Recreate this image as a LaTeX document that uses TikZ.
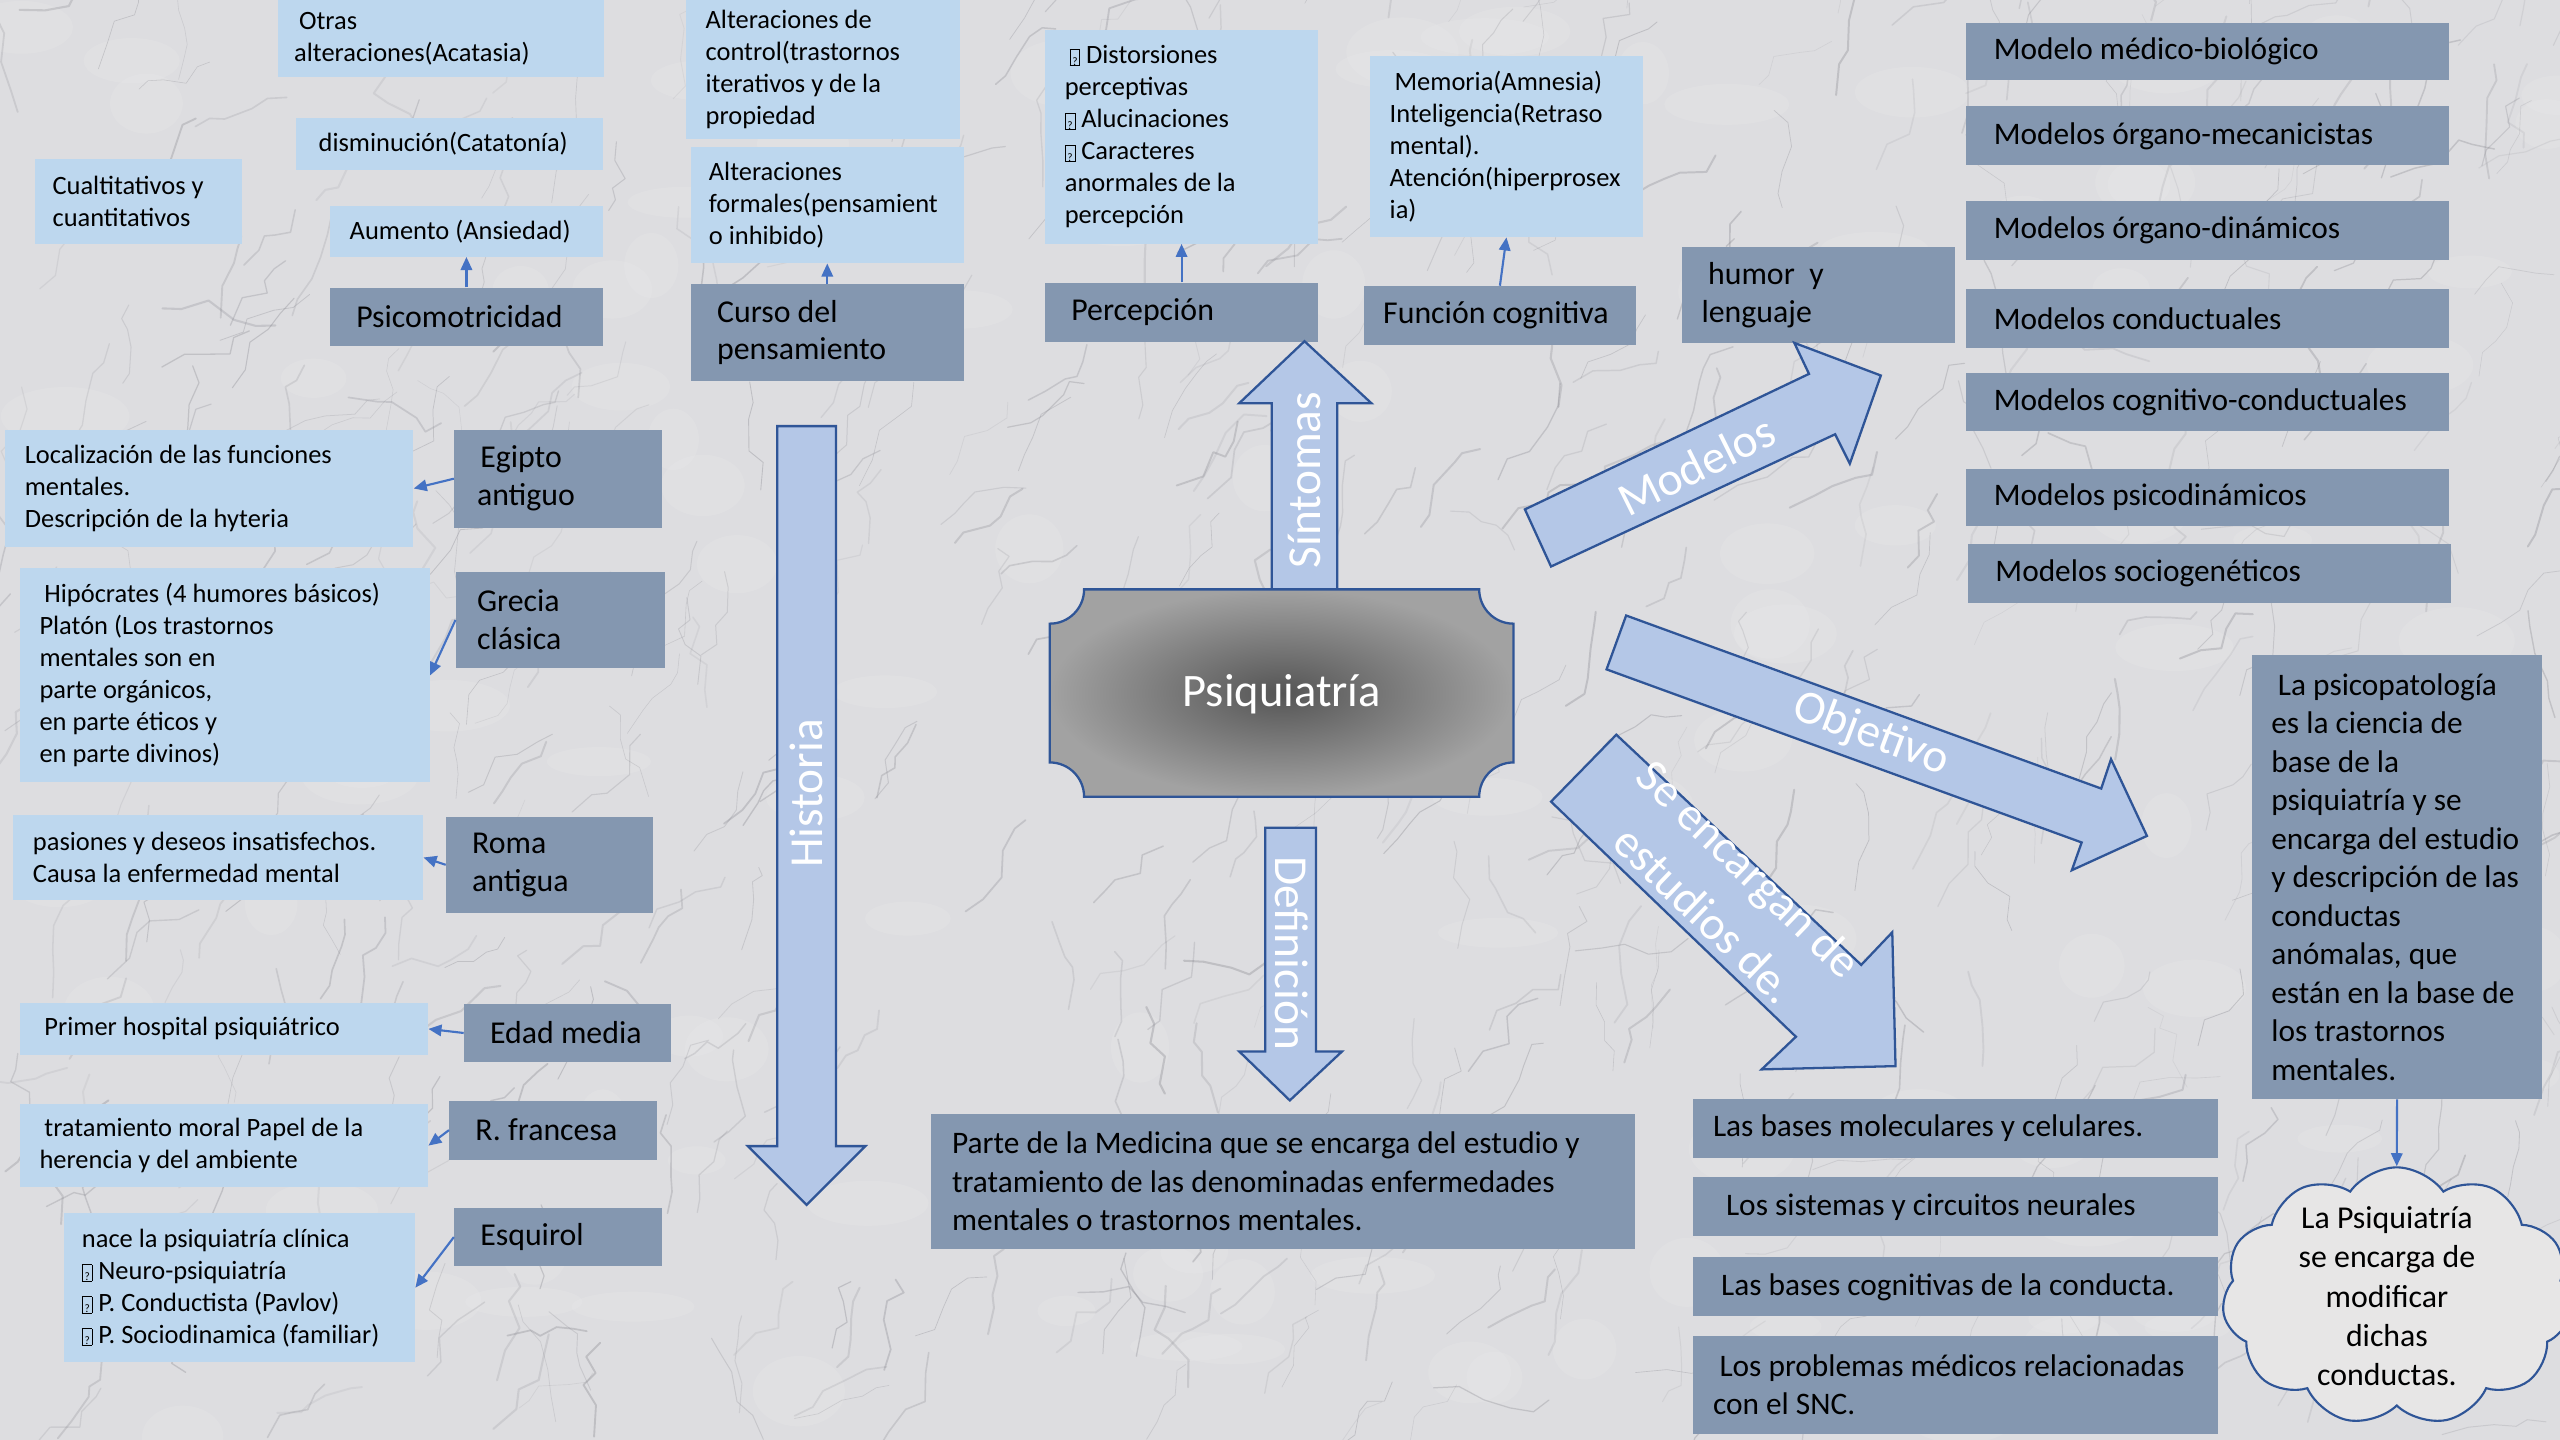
\documentclass[tikz,border=0pt]{standalone}
\usepackage{fontspec}
\setmainfont{Carlito}
\usetikzlibrary{shapes.symbols,arrows.meta}
\definecolor{lblue}{HTML}{BDD7EE}
\definecolor{dgray}{HTML}{8497B0}
\definecolor{abody}{HTML}{B4C7E7}
\definecolor{aline}{HTML}{2F5597}
\definecolor{cblue}{HTML}{4472C4}
\definecolor{bgc}{HTML}{DDDDE0}
\definecolor{vein}{HTML}{7E7E86}
\definecolor{cloudc}{HTML}{E7E6E6}
\definecolor{sdark}{HTML}{555555}
\definecolor{slight}{HTML}{A2A2A2}
\newcommand\qb{\raisebox{-1pt}{\setlength\fboxsep{0pt}\setlength\fboxrule{0.45pt}\fbox{\makebox[5.5pt]{\rule{0pt}{9.5pt}\fontsize{7}{7}\selectfont ?}}}}
\newcommand\bx[8]{%
  \pgfmathsetmacro\bw{#5-#3}\pgfmathsetmacro\bh{#6-#4}%
  \node[#1, anchor=north west, minimum width=\bw pt, minimum height=\bh pt] (#2) at (#3,#4) {};
  \node[#1txt, anchor=west, align=left] (#2t) at ([xshift=#7pt]#2.west) {#8};}
\begin{document}
\begin{tikzpicture}[x=1pt,y=-1pt,
  lbox/.style={fill=lblue, draw=none, inner sep=0},
  lboxtxt/.style={inner sep=0, font=\fontsize{16.2}{19.6}\selectfont},
  dbox/.style={fill=dgray, draw=none, inner sep=0},
  dboxtxt/.style={inner sep=0, font=\fontsize{19.5}{23.2}\selectfont},
  mbox/.style={fill=dgray, draw=none, inner sep=0},
  mboxtxt/.style={inner sep=0, font=\fontsize{19.2}{23.6}\selectfont},
  conn/.style={draw=cblue, line width=1.3pt, -{Triangle[length=8pt,width=7pt]}},
  barrow/.style={fill=abody, draw=aline, line width=1.4pt, line join=miter},
  alabel/.style={text=white, inner sep=0, font={\fontsize{29}{39}\selectfont}}]
\useasboundingbox (0,0) rectangle (1568,882);
% marble background
\fill[bgc] (0,0) rectangle (1568,882);
\begin{scope}
\clip (0,0) rectangle (1568,882);
\pgfmathsetseed{17}
\foreach \i in {1,...,120}{
  \pgfmathsetmacro\xa{rnd*1568}
  \pgfmathsetmacro\ya{rnd*882}
  \fill[white, opacity=0.09] (\xa,\ya) ellipse[x radius=15+rnd*25, y radius=8+rnd*14];
}
\foreach \i in {1,...,650}{
  \pgfmathsetmacro\xa{rnd*1600-16}
  \pgfmathsetmacro\ya{rnd*900-9}
  \pgfmathsetmacro\an{-60+rnd*60-30+(rnd>0.7)*(rnd*120-60)}
  \pgfmathsetmacro\lw{0.3+rnd*1.0}
  \pgfmathsetmacro\op{0.10+rnd*0.22}
  \draw[vein, line width=\lw pt, opacity=\op, line join=round, line cap=round]
    (\xa,\ya) -- ++(\an:6+rnd*14) -- ++(\an+rnd*90-45:6+rnd*14)
    -- ++(\an+rnd*90-45:6+rnd*14) -- ++(\an+rnd*90-45:6+rnd*12)
    -- ++(\an+rnd*90-45:5+rnd*10);
}
\end{scope}

% ---- top left: Psicomotricidad
\bx{lbox}{otras}{170}{0}{370}{47}{10}{\hspace*{3pt}Otras\\alteraciones(Acatasia)}
\bx{lbox}{dism}{181}{72}{369}{104}{14}{disminución(Catatonía)}
\bx{lbox}{aum}{202}{126}{369}{157}{12}{Aumento (Ansiedad)}
\bx{lbox}{cual}{21}{97}{148}{149}{11}{Cualtitativos y\\cuantitativos}
\bx{dbox}{psico}{202}{176}{369}{212}{16}{Psicomotricidad}
% ---- Curso del pensamiento
\bx{lbox}{altctrl}{420}{0}{588}{85}{12}{Alteraciones de\\control(trastornos\\iterativos y de la\\propiedad}
\bx{lbox}{altform}{423}{90}{590}{161}{11}{Alteraciones\\formales(pensamient\\o inhibido)}
\bx{dbox}{curso}{423}{174}{590}{233}{16}{Curso del\\pensamiento}
% ---- Percepción
\bx{lbox}{dist}{640}{18}{807}{149}{12}{\hspace*{3pt}\qb\ Distorsiones\\perceptivas\\\qb\ Alucinaciones\\\qb\ Caracteres\\anormales de la\\percepción}
\bx{dbox}{perc}{640}{173}{807}{209}{16}{Percepción}
% ---- Función cognitiva
\bx{lbox}{mem}{839}{34}{1006}{145}{12}{\hspace*{3pt}Memoria(Amnesia)\\Inteligencia(Retraso\\mental).\\Atención(hiperprosex\\ia)}
\bx{dbox}{func}{835}{175}{1002}{211}{12}{Función cognitiva}
\bx{dbox}{humor}{1030}{151}{1197}{210}{12}{\hspace*{4pt}humor~~y\\lenguaje}
% ---- Modelos
\bx{mbox}{m1}{1204}{14}{1500}{49}{17}{Modelo médico-biológico}
\bx{mbox}{m2}{1204}{65}{1500}{101}{17}{Modelos órgano-mecanicistas}
\bx{mbox}{m3}{1204}{123}{1500}{159}{17}{Modelos órgano-dinámicos}
\bx{mbox}{m4}{1204}{177}{1500}{213}{17}{Modelos conductuales}
\bx{mbox}{m5}{1204}{228}{1500}{264}{17}{Modelos cognitivo-conductuales}
\bx{mbox}{m6}{1204}{287}{1500}{322}{17}{Modelos psicodinámicos}
\bx{mbox}{m7}{1205}{333}{1501}{369}{17}{Modelos sociogenéticos}
% ---- Historia
\bx{lbox}{loc}{3}{263}{253}{335}{12}{Localización de las funciones\\mentales.\\Descripción de la hyteria}
\bx{dbox}{egipto}{278}{263}{405}{323}{14}{\hspace*{2pt}Egipto\\antiguo}
\bx{lbox}{hip}{12}{348}{263}{479}{12}{\hspace*{3pt}Hipócrates (4 humores básicos)\\Platón (Los trastornos\\mentales son en\\parte orgánicos,\\en parte éticos y\\en parte divinos)}
\bx{dbox}{grecia}{279}{350}{407}{409}{13}{Grecia\\clásica}
\bx{lbox}{pas}{8}{499}{259}{551}{12}{pasiones y deseos insatisfechos.\\Causa la enfermedad mental}
\bx{dbox}{roma}{273}{500}{400}{559}{16}{Roma\\antigua}
\bx{lbox}{prim}{12}{614}{262}{646}{15}{Primer hospital psiquiátrico}
\bx{dbox}{edad}{284}{615}{411}{650}{16}{Edad media}
\bx{lbox}{trat}{12}{676}{262}{727}{12}{\hspace*{3pt}tratamiento moral Papel de la\\herencia y del ambiente}
\bx{dbox}{rfr}{275}{674}{402}{710}{16}{R. francesa}
\bx{lbox}{nace}{39}{743}{254}{834}{11}{nace la psiquiatría clínica\\\qb\ Neuro-psiquiatría\\\qb\ P. Conductista (Pavlov)\\\qb\ P. Sociodinamica (familiar)}
\bx{dbox}{esq}{278}{740}{405}{775}{16}{Esquirol}
% ---- bottom
\bx{mbox}{defb}{570}{682}{1001}{765}{13}{Parte de la Medicina que se encarga del estudio y\\tratamiento de las denominadas enfermedades\\mentales o trastornos mentales.}
\bx{mbox}{b1}{1037}{673}{1358}{709}{12}{Las bases moleculares y celulares.}
\bx{mbox}{b2}{1037}{721}{1358}{757}{20}{Los sistemas y circuitos neurales}
\bx{mbox}{b3}{1037}{770}{1358}{806}{17}{Las bases cognitivas de la conducta.}
\bx{mbox}{b4}{1037}{818}{1358}{878}{12}{\hspace*{4pt}Los problemas médicos relacionadas\\con el SNC.}
\bx{mbox}{psp}{1379}{401}{1557}{673}{12}{\hspace*{4pt}La psicopatología\\es la ciencia de\\base de la\\psiquiatría y se\\encarga del estudio\\y descripción de las\\conductas\\anómalas, que\\están en la base de\\los trastornos\\mentales.}

% ---- big block arrows
\filldraw[barrow] (476,261) -- (512,261) -- (512,702) -- (530,702) -- (494,738) -- (458,702) -- (476,702) -- cycle;
\filldraw[barrow] (779,361) -- (779,247) -- (759,247) -- (799,209) -- (840,247) -- (819,247) -- (819,361) -- cycle;
\filldraw[barrow] (775,507) -- (806,507) -- (806,644) -- (822,644) -- (790,674) -- (759,644) -- (775,644) -- cycle;
\filldraw[barrow] (934,312) -- (1108,229) -- (1099,210) -- (1152,230) -- (1133,284) -- (1124,266) -- (950,347) -- cycle;
\filldraw[barrow] (996,377) -- (1287,483) -- (1293,465) -- (1315,512) -- (1269,533) -- (1275,516) -- (984,410) -- cycle;
\filldraw[barrow] (990,450) -- (1140,591) -- (1159,571) -- (1161,653) -- (1079,655) -- (1100,635) -- (950,491) -- cycle;
\node[alabel, rotate=90] (lhist) at (494,486) {Historia};
\node[alabel, rotate=90] (lsint) at (799,294) {Síntomas};
\node[alabel, rotate=-90] (ldef) at (791,584) {Definición};
\node[alabel, rotate=26.5] (lmod) at (1039,285) {Modelos};
\node[alabel, rotate=-20.5] (lobj) at (1146,450) {Objetivo};
\node[alabel, rotate=-44, align=center] (lse) at (1058,546) {Se encargan de\\estudios de.};

% ---- central node
\shadedraw[inner color=sdark, outer color=slight, draw=aline, line width=1.4pt]
  (664,361) -- (906,361) arc[start angle=180,end angle=90,radius=21]
  -- (927,467) arc[start angle=-90,end angle=-180,radius=21]
  -- (664,488) arc[start angle=0,end angle=-90,radius=21]
  -- (643,382) arc[start angle=90,end angle=0,radius=21] -- cycle;
\node[text=white, font=\fontsize{28.5}{32}\selectfont] (psiq) at (785,425) {Psiquiatría};

% ---- cloud
\node[cloud, cloud puffs=11, cloud puff arc=110, aspect=1.3, draw=aline, fill=cloudc,
  line width=1.3pt, minimum width=214pt, minimum height=158pt, inner sep=0] (cl) at (1468,794) {};
\node[font=\fontsize{19.5}{24}\selectfont, align=center, inner sep=0] (cltxt) at (1462,794) {La Psiquiatría\\se encarga de\\modificar\\dichas\\conductas.};

% ---- small connectors
\draw[conn] (psico.north) -- (aum.south);
\draw[conn] (curso.north) -- (altform.south);
\draw[conn] (perc.north) -- (dist.south);
\draw[conn] (func.north) -- (mem.south);
\draw[conn] (egipto.west) -- (loc.east);
\draw[conn] (grecia.west) -- (hip.east);
\draw[conn] (roma.west) -- (pas.east);
\draw[conn] (edad.west) -- (prim.east);
\draw[conn] (rfr.west) -- (trat.east);
\draw[conn] (esq.west) -- (nace.east);
\draw[conn] (psp.south) -- (cl.north);
\end{tikzpicture}
\end{document}
